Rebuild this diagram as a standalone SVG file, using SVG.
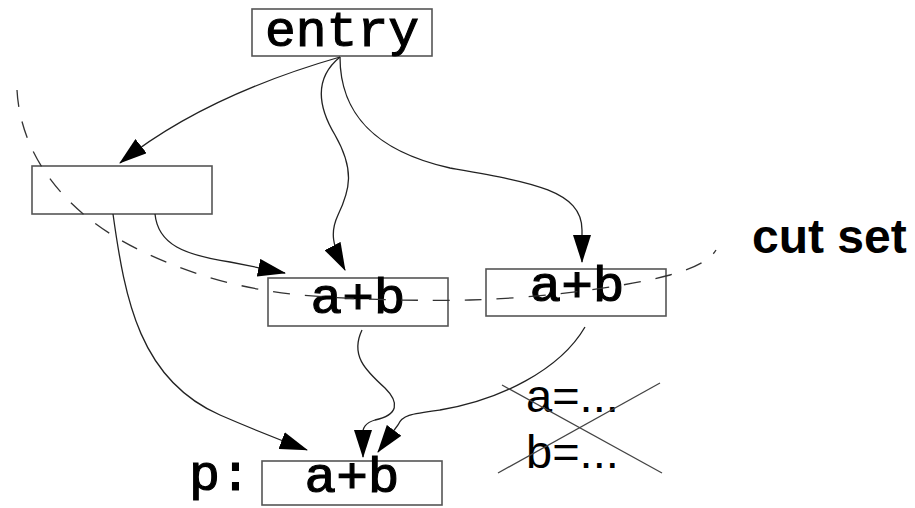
<svg xmlns="http://www.w3.org/2000/svg" width="915" height="508" viewBox="0 0 915 508">
<style>
.box{fill:#fff;stroke:#555;stroke-width:1.6}
.mono{font-family:"Liberation Mono","Courier New",monospace;font-size:50px;fill:#000;stroke:#000;stroke-width:1.1;text-anchor:middle}
.sans{font-family:"Liberation Sans",Arial,sans-serif;fill:#000}
.edge{fill:none;stroke:#222;stroke-width:1.3;marker-end:url(#arr)}
.cut{fill:none;stroke:#333;stroke-width:1.3;stroke-dasharray:17 15}
.x{stroke:#444;stroke-width:1.3}
</style>
<defs>
<marker id="arr" viewBox="0 0 28 18" markerWidth="28" markerHeight="18" refX="27" refY="9" orient="auto" markerUnits="userSpaceOnUse">
<path d="M0,0 L28,9 L0,18 Z" fill="#000"/>
</marker>
</defs>
<g id="entry"><rect class="box" x="252" y="9" width="180" height="47"/><text class="mono" x="342" y="46" textLength="154" lengthAdjust="spacingAndGlyphs">entry</text></g>
<g id="left"><rect class="box" x="32" y="166" width="180" height="48"/></g>
<g id="mid"><rect class="box" x="268" y="278" width="180" height="48"/><text class="mono" x="358" y="313" textLength="95" lengthAdjust="spacingAndGlyphs">a+b</text></g>
<g id="right"><rect class="box" x="486" y="269" width="180" height="47"/><text class="mono" x="577" y="301" textLength="95" lengthAdjust="spacingAndGlyphs">a+b</text></g>
<g id="p"><rect class="box" x="262" y="461" width="180" height="44"/><text class="mono" x="352" y="492" textLength="95" lengthAdjust="spacingAndGlyphs">a+b</text><text class="mono" x="220" y="490" textLength="62" lengthAdjust="spacingAndGlyphs">p:</text></g>
<g id="connectors">
<path class="edge" d="M340,57 C260,80 180,115 120,163"/>
<path class="edge" d="M340,57 C318,75 314,100 335,135 C355,170 350,190 338,215 C330,232 332,245 345,270"/>
<path class="edge" d="M340,57 C340,110 370,150 450,168 C530,182 582,190 582,230 L582,262"/>
<path class="edge" d="M155,214 C158,245 185,255 230,262 L285,273"/>
<path class="edge" d="M113,214 C125,300 140,380 220,415 C250,428 280,440 307,450"/>
<path class="edge" d="M362,330 C350,355 365,370 385,388 C400,403 398,415 375,420 C365,423 362,428 363,435 L363,457"/>
<path class="edge" d="M585,327 C560,370 500,400 440,410 C410,414 402,415 398,425 L378,452"/>
</g>
<path class="cut" d="M17,90 C20,150 60,215 150,255 C200,278 250,290 300,295 C360,300 420,301 470,300 C540,298 620,288 670,275 C695,268 710,260 716,250"/>
<g id="cutset"><text class="sans" x="752" y="253" font-size="48" font-weight="bold">cut set</text></g>
<g id="defs-crossed">
<text class="sans" x="526" y="412" font-size="47">a=...</text>
<text class="sans" x="526" y="468" font-size="47">b=...</text>
<line class="x" x1="502" y1="385" x2="662" y2="473"/>
<line class="x" x1="498" y1="473" x2="660" y2="383"/>
</g>
</svg>
